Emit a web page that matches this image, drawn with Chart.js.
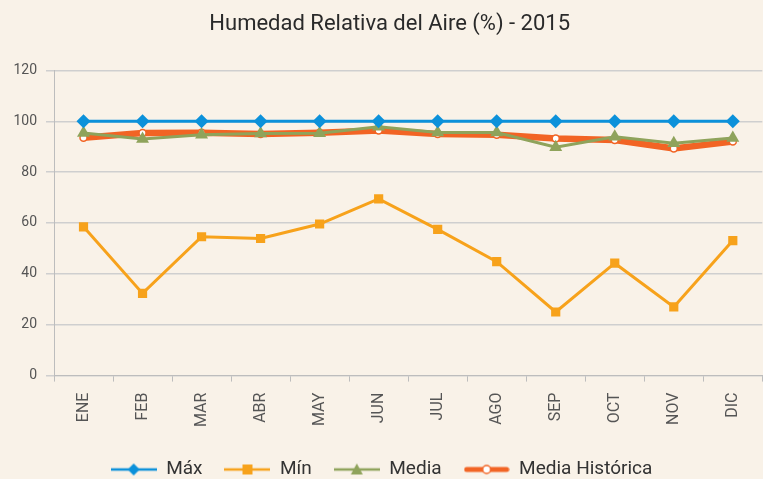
<!DOCTYPE html>
<html>
<head>
<meta charset="utf-8">
<script src="https://cdn.jsdelivr.net/npm/chart.js@4/dist/chart.umd.min.js"></script>
<style>
html,body{margin:0;padding:0;background:#F9F2E8;}
#wrap{width:763px;height:479px;position:relative;}
</style>
</head>
<body>
<div id="wrap"><canvas id="c" width="763" height="479"></canvas></div>
<script>
const categories = ['ENE','FEB','MAR','ABR','MAY','JUN','JUL','AGO','SEP','OCT','NOV','DIC'];
const maxValues = [100,100,100,100,100,100,100,100,100,100,100,100];
const minValues = [58.5,32.3,54.6,53.9,59.6,69.5,57.5,44.8,25,44.2,27,53.1];
const mediaValues = [95.4,93,94.7,95.2,95.3,97.8,95.6,95.6,89.8,93.9,91.4,93.4];
const mediaHistValues = [93.5,95.4,95.5,95,95.5,96.4,95,94.7,93.2,92.6,89.3,92];
const yTicks = [0,20,40,60,80,100,120];

const BLUE = '#0C91DA', ORANGE = '#F7A21B', GREEN = '#8FA35B', RED = '#F26424';

function legendIcon(kind){
  const c = document.createElement('canvas');
  c.width = 46; c.height = 16;
  const g = c.getContext('2d');
  const cy = 8;
  if(kind==='max'){
    g.strokeStyle=BLUE; g.lineWidth=2.5; g.beginPath(); g.moveTo(0,cy); g.lineTo(46,cy); g.stroke();
    g.fillStyle=BLUE; g.beginPath(); g.moveTo(23,cy-6); g.lineTo(29,cy); g.lineTo(23,cy+6); g.lineTo(17,cy); g.closePath(); g.fill();
  } else if(kind==='min'){
    g.strokeStyle=ORANGE; g.lineWidth=2.5; g.beginPath(); g.moveTo(0,cy); g.lineTo(46,cy); g.stroke();
    g.fillStyle=ORANGE; g.fillRect(18,cy-5,10,10);
  } else if(kind==='media'){
    g.strokeStyle=GREEN; g.lineWidth=2.5; g.beginPath(); g.moveTo(0,cy); g.lineTo(46,cy); g.stroke();
    g.fillStyle=GREEN; g.beginPath(); g.moveTo(23,cy-6); g.lineTo(29,cy+5); g.lineTo(17,cy+5); g.closePath(); g.fill();
  } else {
    g.strokeStyle=RED; g.lineWidth=5; g.lineCap='round'; g.beginPath(); g.moveTo(3,cy); g.lineTo(43,cy); g.stroke();
    g.fillStyle='#fff'; g.strokeStyle=RED; g.lineWidth=1.5; g.beginPath(); g.arc(23,cy,4,0,Math.PI*2); g.fill(); g.stroke();
  }
  return c;
}
const icons = [legendIcon('max'),legendIcon('min'),legendIcon('media'),legendIcon('hist')];

new Chart(document.getElementById('c'), {
  type: 'line',
  data: {
    labels: categories,
    datasets: [
      {label:'Máx', data:maxValues, borderColor:BLUE, backgroundColor:BLUE, borderWidth:3, pointStyle:'rectRot', pointRadius:7, pointBorderWidth:0, tension:0},
      {label:'Mín', data:minValues, borderColor:ORANGE, backgroundColor:ORANGE, borderWidth:3, pointStyle:'rect', pointRadius:6.5, pointBorderWidth:0, tension:0},
      {label:'Media', data:mediaValues, borderColor:GREEN, backgroundColor:GREEN, borderWidth:3, pointStyle:'triangle', pointRadius:7.5, pointBorderWidth:0, tension:0},
      {label:'Media Histórica', data:mediaHistValues, borderColor:RED, backgroundColor:'#ffffff', borderWidth:6.5, pointStyle:'circle', pointRadius:3.5, pointBorderWidth:1.5, pointBorderColor:RED, tension:0}
    ]
  },
  options: {
    responsive:false,
    animation:false,
    layout:{autoPadding:false, padding:{left:0,right:0,top:0,bottom:-10}},
    plugins:{
      title:{display:true, text:'   Humedad Relativa del Aire (%) - 2015', color:'#2a2a2a', font:{family:'Roboto', size:22, weight:'normal'}, padding:{top:11,bottom:33}},
      tooltip:{enabled:false},
      legend:{
        position:'bottom',
        labels:{
          usePointStyle:true,
          pointStyleWidth:46,
          color:'#333',
          font:{family:'Roboto', size:19},
          padding:22,
          generateLabels:(chart)=>chart.data.datasets.map((ds,i)=>({text:ds.label, pointStyle:icons[i], fillStyle:'transparent', strokeStyle:'transparent', lineWidth:0, datasetIndex:i, fontColor:'#333'}))
        }
      }
    },
    scales:{
      x:{
        offset:true,
        grid:{display:true, drawOnChartArea:false, drawTicks:true, tickLength:6, color:'#bdbdbd', offset:true},
        border:{display:true, color:'#bdbdbd'},
        ticks:{color:'#555', font:{family:'Roboto', size:16}, maxRotation:90, minRotation:90, padding:11}
      },
      y:{
        min:0, max:120,
        afterBuildTicks:(ax)=>{ ax.ticks = yTicks.map(v=>({value:v})); },
        afterFit:(ax)=>{ ax.width = 54; },
        grid:{color:'#cfcfcf', lineWidth:1.5, tickLength:8},
        border:{display:true, color:'#bdbdbd'},
        ticks:{color:'#555', font:{family:'Roboto', size:14}, padding:9}
      }
    }
  }
});
</script>
</body>
</html>
